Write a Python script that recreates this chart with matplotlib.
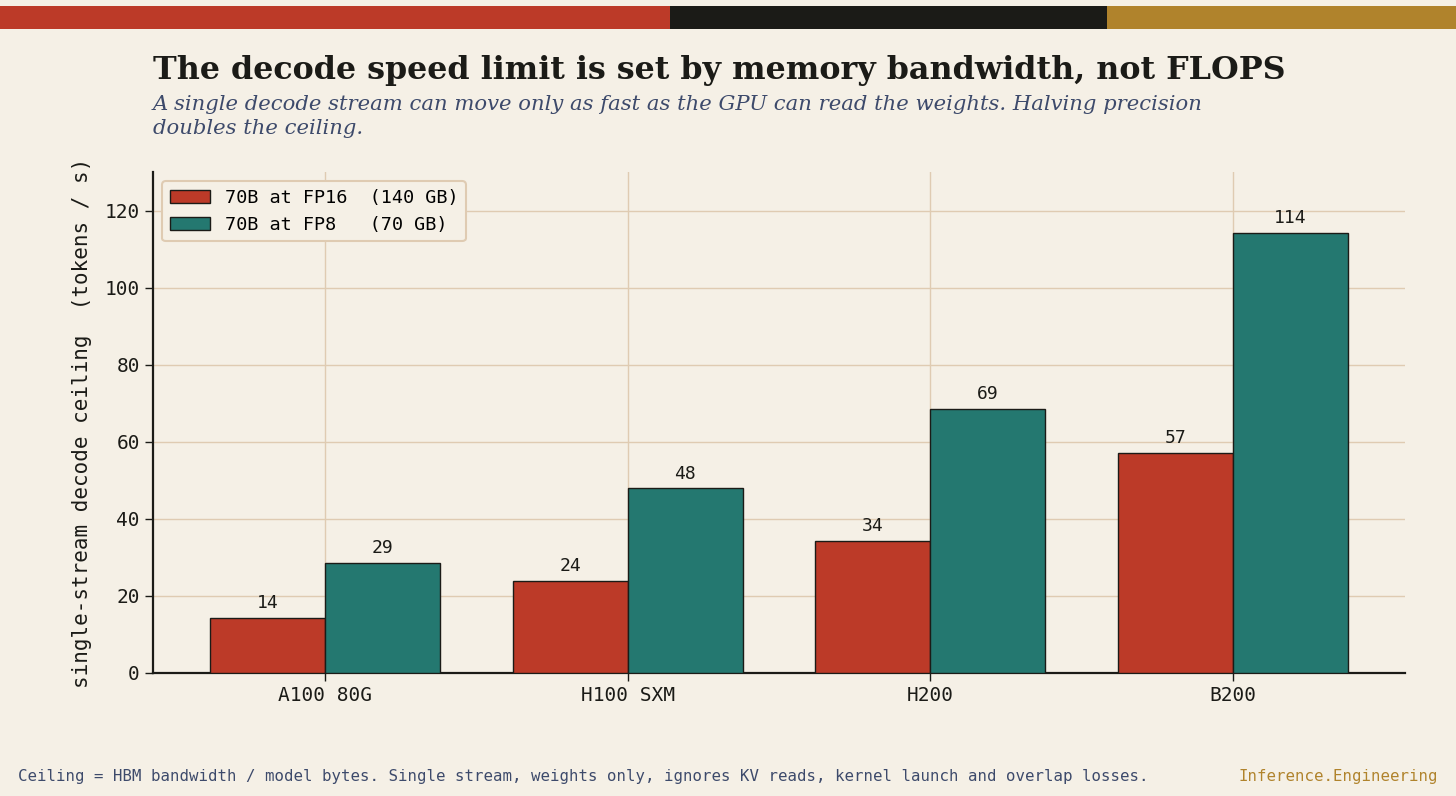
import matplotlib
matplotlib.use("Agg")
import matplotlib.pyplot as plt
import numpy as np

# data
gpus = ["A100 80G", "H100 SXM", "H200", "B200"]
fp16 = [14.3, 23.9, 34.3, 57.1]
fp8 = [28.6, 47.9, 68.6, 114.3]
series_names = ["70B at FP16  (140 GB)", "70B at FP8   (70 GB)"]

BG = "#f5f0e6"
RED = "#bc3a28"
TEAL = "#247870"
INK = "#1b1b17"
GOLD = "#b0832c"
NAVY = "#3d4a6b"
GRID = "#dfcbb2"
MONO = "DejaVu Sans Mono"

fig = plt.figure(figsize=(14.56, 7.96), dpi=100, facecolor=BG)

# top colour strip
fig.add_artist(plt.Rectangle((0, 1 - 29 / 796), 670 / 1456, 23 / 796, transform=fig.transFigure, color=RED, lw=0))
fig.add_artist(plt.Rectangle((670 / 1456, 1 - 29 / 796), 437 / 1456, 23 / 796, transform=fig.transFigure, color=INK, lw=0))
fig.add_artist(plt.Rectangle((1107 / 1456, 1 - 29 / 796), 349 / 1456, 23 / 796, transform=fig.transFigure, color=GOLD, lw=0))

fig.text(153 / 1456, 1 - 70 / 796, "The decode speed limit is set by memory bandwidth, not FLOPS",
         family="DejaVu Serif", weight="bold", fontsize=22.9, color=INK, va="center")
fig.text(153 / 1456, 1 - 95 / 796,
         "A single decode stream can move only as fast as the GPU can read the weights. Halving precision\ndoubles the ceiling.",
         family="DejaVu Serif", style="italic", fontsize=15.2, color=NAVY, va="top", linespacing=1.3)

ax = fig.add_axes([153 / 1456, 1 - 673 / 796, (1405 - 153) / 1456, (673 - 172) / 796])
ax.set_facecolor(BG)

x = np.arange(len(gpus))
w = 0.38
b1 = ax.bar(x - w / 2, fp16, w, color=RED, edgecolor=INK, lw=1, label=series_names[0], zorder=3)
b2 = ax.bar(x + w / 2, fp8, w, color=TEAL, edgecolor=INK, lw=1, label=series_names[1], zorder=3)

for bars, vals in [(b1, fp16), (b2, fp8)]:
    for r, v in zip(bars, vals):
        ax.text(r.get_x() + r.get_width() / 2, v + 1.5, f"{v:.0f}", ha="center", va="bottom",
                family=MONO, fontsize=13, color=INK)

ax.set_ylim(0, 130)
ax.set_xticks(x)
ax.set_xticklabels(gpus, family=MONO, fontsize=14, color=INK)
ax.set_yticks(range(0, 121, 20))
for t in ax.get_yticklabels():
    t.set_family(MONO)
    t.set_fontsize(14)
    t.set_color(INK)
ax.set_ylabel("single-stream decode ceiling  (tokens / s)", family=MONO, fontsize=15, color=INK, labelpad=9)

ax.grid(True, color=GRID, lw=1, zorder=0)
ax.set_axisbelow(True)
for s in ["top", "right"]:
    ax.spines[s].set_visible(False)
for s in ["left", "bottom"]:
    ax.spines[s].set_color(INK)
    ax.spines[s].set_linewidth(1.6)
ax.tick_params(colors=INK, length=6, width=1)

leg = ax.legend(loc="upper left", prop={"family": MONO, "size": 13.3}, facecolor=BG, edgecolor=GRID,
                framealpha=1, handlelength=2.2, borderaxespad=0.5)
leg.get_frame().set_linewidth(1.5)

fig.text(18 / 1456, 1 - 777 / 796,
         "Ceiling = HBM bandwidth / model bytes. Single stream, weights only, ignores KV reads, kernel launch and overlap losses.",
         family=MONO, fontsize=11.3, color=NAVY, va="center")
fig.text(1438 / 1456, 1 - 777 / 796, "Inference.Engineering", family=MONO, fontsize=11.3, color=GOLD,
         va="center", ha="right")

fig.savefig("out.png", dpi=100, facecolor=BG)
